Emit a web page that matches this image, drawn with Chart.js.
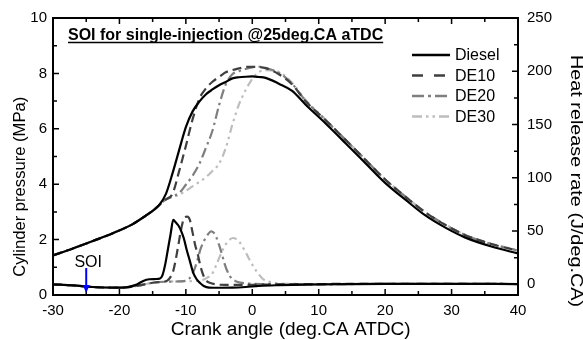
<!DOCTYPE html>
<html><head><meta charset="utf-8">
<script src="https://cdn.jsdelivr.net/npm/chart.js@4.4.1/dist/chart.umd.min.js"></script>
<style>html,body{margin:0;padding:0;background:#fff}canvas{display:block}</style>
</head><body>
<canvas id="c" width="583" height="340"></canvas>
<script>
// ---------- data ----------
const seriesNames = ['Diesel', 'DE10', 'DE20', 'DE30'];
const chartTitle = 'SOI for single-injection @25deg.CA aTDC';
const xTitle = 'Crank angle (deg.CA ATDC)';
const yTitle = 'Cylinder pressure (MPa)';
const y1Title = 'Heat release rate (J/deg.CA)';
const xTicks = [-30, -20, -10, 0, 10, 20, 30, 40];
const yTicks = [0, 2, 4, 6, 8, 10];
const y1Ticks = [0, 50, 100, 150, 200, 250];
const soiCA = -25;
const soiLabel = 'SOI';

// cylinder pressure (MPa), shared crank-angle grid
const caP = [-30,-27,-24,-21,-18,-16,-15,-14,-13,-12,-11,-10,-9,-8,-7,-6,-5,-4,-3,-2,-1,0,1,2,4,6,8,11,14,17,20,23,26,29,32,36,40];
const pDiesel = [1.43,1.68,1.95,2.23,2.56,2.87,3.04,3.25,3.65,4.4,5.24,6.06,6.62,6.97,7.24,7.42,7.57,7.69,7.82,7.86,7.88,7.89,7.87,7.84,7.63,7.37,6.88,6.2,5.49,4.77,4.05,3.45,2.88,2.44,2.08,1.75,1.5];
const pDE10   = [1.43,1.68,1.95,2.23,2.56,2.87,3.04,3.25,3.45,3.66,4.48,5.38,6.33,7.07,7.45,7.7,7.87,8.04,8.12,8.18,8.23,8.24,8.23,8.19,7.97,7.6,7.0,6.32,5.61,4.89,4.17,3.56,2.99,2.54,2.17,1.84,1.6];
const pDE20   = [1.43,1.68,1.95,2.23,2.56,2.87,3.04,3.25,3.45,3.57,3.68,3.98,4.3,4.72,5.3,5.93,6.85,7.6,7.97,8.08,8.16,8.22,8.24,8.2,8.02,7.63,7.02,6.32,5.61,4.89,4.17,3.56,2.99,2.54,2.17,1.84,1.6];
const pDE30   = [1.43,1.68,1.95,2.23,2.56,2.87,3.04,3.25,3.45,3.53,3.62,3.76,3.92,4.08,4.25,4.48,4.74,5.3,6.15,6.88,7.4,7.8,8.05,8.12,8.05,7.66,7.05,6.34,5.62,4.9,4.18,3.57,3.0,2.55,2.18,1.85,1.62];

// heat release rate (J/deg.CA)
const caHDiesel = [-30,-27,-24,-21,-19,-17.5,-16.5,-15.5,-14.5,-13.9,-13.5,-13.1,-12.7,-12.3,-11.9,-11.5,-11.1,-10.7,-10.3,-9.9,-9.4,-8.9,-8.4,-7.9,-7.3,-6.5,-5,-3,-1,1,4,10,20,30,40];
const hDiesel   = [0,-1,-2.5,-3.1,-2.8,-0.5,3,4.8,5,5.5,9,19,33,47,60.5,58,55,50,43,33,22,11,5,1.5,-1.5,-3,-3.2,-3.1,-2.5,-1.5,-0.8,0,0.5,0.5,0.3];
const caHDE10 = [-30,-27,-24,-21,-19,-17,-15,-13.5,-12.8,-12.3,-11.9,-11.5,-11.1,-10.7,-10.2,-9.8,-9.4,-9,-8.6,-8.2,-7.8,-7.4,-7,-6.4,-5.5,-4,-2,1,4,10,20,30,40];
const hDE10   = [0,-1,-2.5,-3.1,-2.8,-1,1.5,2.5,3.5,7,12.5,24,38,52,63,63.5,60.5,49,37,28,17,9,4,1.5,0,-0.5,-0.5,-0.3,0,0.3,0.5,0.5,0.3];
const caHDE20 = [-30,-27,-24,-21,-19,-17,-15,-13,-11,-10,-9.4,-9,-8.6,-8.2,-7.8,-7.4,-7,-6.6,-6.2,-5.8,-5.4,-5,-4.6,-4.2,-3.8,-3.4,-3,-2.5,-1.8,-1,0,2,5,10,20,30,40];
const hDE20   = [0,-1,-2.5,-3.1,-2.8,-1,1.5,2.5,2.8,3.5,6,10,16,24,33,39,44,47.5,49.7,48.5,44,37,29,20,13,8,5,3,1.6,1,0.5,0.3,0,0,0.5,0.5,0.3];
const caHDE30 = [-30,-27,-24,-21,-19,-17,-15,-13,-11,-9,-8,-7.3,-6.7,-6.1,-5.5,-4.9,-4.4,-3.9,-3.4,-2.9,-2.4,-1.9,-1.4,-0.9,-0.4,0.1,0.6,1.1,1.6,2.2,3.2,5,10,20,30,40];
const hDE30   = [0,-1,-2.5,-3.1,-2.8,-1,1.5,2.5,2.8,3,3.5,4.5,6.5,9.3,17,26,33,38.5,42,43.5,42.5,39.5,34.5,29,23,17.5,12.5,8.5,5,3,1.6,0.5,0.3,0.5,0.5,0.3];

// ---------- styles ----------
const colors = ['#000000', '#3f3f3f', '#7f7f7f', '#bdbdbd'];
const dashes = [[], [9, 5], [10, 4, 2.5, 4], [8, 4, 2.5, 4, 2.5, 4]];
const legendDashes = [[], [11, 11], [12, 4, 3, 4], [10, 4, 2.5, 4, 2.5, 4]];
const FONT = "'Liberation Sans', Arial, Helvetica, sans-serif";

const pressure = [pDiesel, pDE10, pDE20, pDE30];
const hrrX = [caHDiesel, caHDE10, caHDE20, caHDE30];
const hrrY = [hDiesel, hDE10, hDE20, hDE30];

const toXY = (xs, ys) => xs.map((x, i) => ({x, y: ys[i]}));
const datasets = [];
seriesNames.forEach((n, i) => {
  datasets.push({label: n, data: toXY(caP, pressure[i]), yAxisID: 'y',
    borderColor: colors[i], borderDash: dashes[i], borderWidth: 2.2,
    pointRadius: 0, cubicInterpolationMode: 'monotone', fill: false});
});
seriesNames.forEach((n, i) => {
  datasets.push({label: n + ' HRR', data: toXY(hrrX[i], hrrY[i]), yAxisID: 'y1',
    borderColor: colors[i], borderDash: dashes[i], borderWidth: 2.2,
    pointRadius: 0, cubicInterpolationMode: 'monotone', fill: false});
});

function drawStretched(ctx, text, cx, cy, rot, font, targetLen) {
  ctx.save();
  ctx.font = font;
  const w = ctx.measureText(text).width;
  ctx.translate(cx, cy);
  ctx.rotate(rot);
  ctx.scale(targetLen / w, 1);
  ctx.textAlign = 'center';
  ctx.textBaseline = 'middle';
  ctx.fillStyle = '#000';
  ctx.fillText(text, 0, 0);
  ctx.restore();
}

const overlay = {
  id: 'overlay',
  afterDraw(chart) {
    const {ctx, chartArea: a, scales: {x, y, y1}} = chart;
    ctx.save();
    ctx.setLineDash([]);
    ctx.strokeStyle = '#000';
    // minor/major ticks pointing inward
    ctx.lineWidth = 1.5;
    ctx.beginPath();
    for (let v = -30; v <= 40; v += 5) {
      const px = x.getPixelForValue(v);
      const len = (v % 10 === 0) ? 6 : 4;
      ctx.moveTo(px, a.bottom); ctx.lineTo(px, a.bottom - len);
      ctx.moveTo(px, a.top); ctx.lineTo(px, a.top + len);
    }
    for (let v = 0; v <= 10; v += 1) {
      const py = y.getPixelForValue(v);
      const len = (v % 2 === 0) ? 6 : 4;
      ctx.moveTo(a.left, py); ctx.lineTo(a.left + len, py);
    }
    for (let v = 0; v <= 250; v += 25) {
      const py = y1.getPixelForValue(v);
      const len = (v % 50 === 0) ? 6 : 4;
      ctx.moveTo(a.right, py); ctx.lineTo(a.right - len, py);
    }
    ctx.stroke();
    // frame
    ctx.lineWidth = 2;
    ctx.strokeRect(a.left, a.top, a.right - a.left, a.bottom - a.top);

    // chart title (underlined, bold)
    ctx.fillStyle = '#000';
    ctx.font = 'bold 16px ' + FONT;
    ctx.textAlign = 'left';
    ctx.textBaseline = 'alphabetic';
    const tx = a.left + 15, ty = a.top + 22;
    ctx.fillText(chartTitle, tx, ty);
    const tw = ctx.measureText(chartTitle).width;
    ctx.lineWidth = 1.5;
    ctx.beginPath(); ctx.moveTo(tx, ty + 2.5); ctx.lineTo(tx + tw, ty + 2.5); ctx.stroke();

    // legend
    ctx.font = '16px ' + FONT;
    ctx.textBaseline = 'middle';
    seriesNames.forEach((n, i) => {
      const ly = 55 + i * 20.5;
      ctx.strokeStyle = colors[i];
      ctx.lineWidth = 2.4;
      ctx.setLineDash(legendDashes[i]);
      ctx.beginPath(); ctx.moveTo(412, ly); ctx.lineTo(450, ly); ctx.stroke();
      ctx.setLineDash([]);
      ctx.fillStyle = '#000';
      ctx.fillText(n, 455, ly + 1);
    });

    // SOI annotation
    const sx = x.getPixelForValue(soiCA);
    ctx.strokeStyle = '#0000ff';
    ctx.fillStyle = '#0000ff';
    ctx.lineWidth = 2;
    ctx.beginPath(); ctx.moveTo(sx, 268); ctx.lineTo(sx, 287); ctx.stroke();
    ctx.beginPath(); ctx.moveTo(sx - 3.5, 285); ctx.lineTo(sx + 3.5, 285); ctx.lineTo(sx, 293); ctx.closePath(); ctx.fill();
    ctx.fillStyle = '#000';
    ctx.font = '16px ' + FONT;
    ctx.textAlign = 'center';
    ctx.textBaseline = 'middle';
    ctx.fillText(soiLabel, sx + 2, 263);

    // axis titles
    drawStretched(ctx, yTitle, 20, 186.7, -Math.PI / 2, '17px ' + FONT, 180);
    drawStretched(ctx, y1Title, 575, 181, Math.PI / 2, '16px ' + FONT, 252);
    drawStretched(ctx, xTitle, 290.7, 330, 0, '18px ' + FONT, 240);
    ctx.restore();
  }
};

const tickFont = {family: FONT, size: 15};
new Chart(document.getElementById('c'), {
  type: 'line',
  data: {datasets},
  plugins: [overlay],
  options: {
    responsive: false, animation: false, devicePixelRatio: 1,
    layout: {padding: {top: 16, right: 0, bottom: 0, left: 0}},
    plugins: {legend: {display: false}, tooltip: {enabled: false}},
    scales: {
      x: {type: 'linear', min: -30, max: 40,
        afterBuildTicks: s => { s.ticks = xTicks.map(v => ({value: v})); },
        ticks: {font: tickFont, color: '#000', padding: 7, maxRotation: 0, autoSkip: false},
        grid: {display: false, drawTicks: false}, border: {display: false},
        afterFit: s => { s.height = 45; }},
      y: {position: 'left', min: 0, max: 10,
        afterBuildTicks: s => { s.ticks = yTicks.map(v => ({value: v})); },
        ticks: {font: tickFont, color: '#000', padding: 6, autoSkip: false},
        grid: {display: false, drawTicks: false}, border: {display: false},
        afterFit: s => { s.width = 53; }},
      y1: {position: 'right', min: -10, max: 250,
        afterBuildTicks: s => { s.ticks = y1Ticks.map(v => ({value: v})); },
        ticks: {font: tickFont, color: '#000', padding: 9, autoSkip: false},
        grid: {display: false, drawTicks: false}, border: {display: false},
        afterFit: s => { s.width = 65; }}
    }
  }
});
</script>
</body></html>
